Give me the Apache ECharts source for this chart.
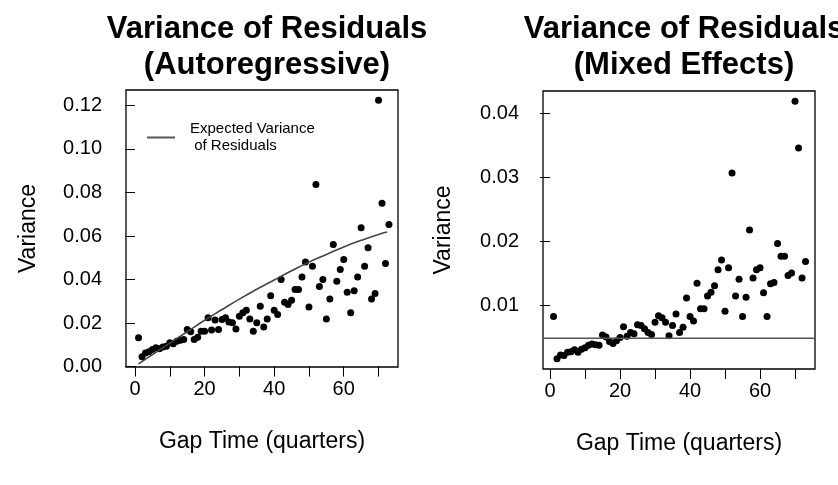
<!DOCTYPE html>
<html>
<head>
<meta charset="utf-8">
<script src="https://cdn.jsdelivr.net/npm/echarts@6/dist/echarts.min.js"></script>
<style>
html,body{margin:0;padding:0;background:#fff;}
#c{width:838px;height:485px;}
</style>
</head>
<body>
<div id="c"></div>
<script>
// Gap time (quarters)
const gapTime = [1,2,3,4,5,6,7,8,9,10,11,12,13,14,15,16,17,18,19,20,21,22,23,24,25,26,27,28,29,30,31,32,33,34,35,36,37,38,39,40,41,42,43,44,45,46,47,48,49,50,51,52,53,54,55,56,57,58,59,60,61,62,63,64,65,66,67,68,69,70,71,72,73];
// Variance of residuals, autoregressive model
const arVariance = [0.0132,0.0045,0.0062,0.0068,0.0078,0.0086,0.0082,0.0090,0.0093,0.0110,
  0.0105,0.0116,0.0121,0.0124,0.0170,0.0160,0.0124,0.0135,0.0162,0.0162,
  0.0224,0.0168,0.0214,0.0170,0.0216,0.0224,0.0205,0.0201,0.0173,0.0231,
  0.0247,0.0259,0.0219,0.0162,0.0201,0.0277,0.0182,0.0219,0.0326,0.0259,
  0.0239,0.0400,0.0296,0.0285,0.0305,0.0354,0.0354,0.0412,0.0480,0.0274,
  0.0461,0.0837,0.0368,0.0400,0.0219,0.0311,0.0561,0.0392,0.0446,0.0492,
  0.0342,0.0247,0.0348,0.0412,0.0638,0.0461,0.0546,0.0311,0.0336,0.1224,
  0.0750,0.0474,0.0653];
// Expected variance of residuals (curve)
const expectedX = [1,5,10,15,20,25,30,35,40,45,50,55,60,65,70,72.5];
const expectedV = [0.0012,0.0055,0.0108,0.0160,0.0213,0.0262,0.0310,0.0355,0.0398,0.0440,0.0480,0.0515,0.0550,0.0580,0.0607,0.0618];
// Variance of residuals, mixed effects model
const meVariance = [0.0083,0.0017,0.0023,0.0022,0.0027,0.0028,0.0031,0.0027,0.0032,0.0034,
  0.0038,0.0040,0.0039,0.0038,0.0054,0.0051,0.0044,0.0041,0.0045,0.0050,
  0.0067,0.0052,0.0058,0.0056,0.0070,0.0069,0.0064,0.0058,0.0055,0.0074,
  0.0084,0.0081,0.0074,0.0053,0.0069,0.0087,0.0058,0.0066,0.0112,0.0083,
  0.0076,0.0135,0.0095,0.0095,0.0115,0.0121,0.0131,0.0156,0.0171,0.0091,
  0.0159,0.0307,0.0115,0.0141,0.0083,0.0113,0.0218,0.0143,0.0156,0.0159,
  0.0120,0.0083,0.0134,0.0136,0.0197,0.0177,0.0177,0.0147,0.0151,0.0419,
  0.0346,0.0143,0.0169];
const meReference = 0.0049;
// Axis ranges
const xRangeAR = [-2.6, 75.6];
const xRangeME = [-2, 75.7];
const yRangeAR = [-0.0002, 0.1271];
const yRangeME = [0.0001, 0.0435];
// Tick values
const xTicks = [0,10,20,30,40,50,60,70];
const xLabels = [0,20,40,60];
const yTicksAR = [0,0.02,0.04,0.06,0.08,0.10,0.12];
const yTicksME = [0.01,0.02,0.03,0.04];

const FONT = 'Liberation Sans, Arial, Helvetica, sans-serif';
const chart = echarts.init(document.getElementById('c'), null, {renderer:'canvas'});

function xAxisDef(gridIndex, range){
  return {
    type:'value', gridIndex, min:range[0], max:range[1],
    name:'Gap Time (quarters)', nameLocation:'middle', nameGap:63,
    nameTextStyle:{fontFamily:FONT, fontSize:23, color:'#000'},
    axisLine:{show:false},
    axisTick:{show:true, length:10, inside:false, customValues:xTicks, lineStyle:{color:'#000', width:1}},
    axisLabel:{customValues:xLabels, margin:12, fontFamily:FONT, fontSize:20, color:'#000'},
    splitLine:{show:false}
  };
}
function yAxisDef(gridIndex, range, ticks, gap){
  return {
    type:'value', gridIndex, min:range[0], max:range[1],
    name:'Variance', nameLocation:'middle', nameGap:gap, nameRotate:90,
    nameTextStyle:{fontFamily:FONT, fontSize:23, color:'#000'},
    axisLine:{show:false},
    axisTick:{show:true, length:10, inside:false, customValues:ticks, lineStyle:{color:'#000', width:1}},
    axisLabel:{customValues:ticks, margin:24, fontFamily:FONT, fontSize:20, color:'#000',
      formatter:v=>v.toFixed(2)},
    splitLine:{show:false}
  };
}

const option = {
  backgroundColor:'#fff',
  animation:false,
  title:[
    {text:'Variance of Residuals\n(Autoregressive)', left:262, top:6, textAlign:'center',
     textStyle:{fontFamily:FONT, fontSize:31, fontWeight:'bold', color:'#000', lineHeight:36}},
    {text:'Variance of Residuals\n(Mixed Effects)', left:679, top:6, textAlign:'center',
     textStyle:{fontFamily:FONT, fontSize:31, fontWeight:'bold', color:'#000', lineHeight:36}}
  ],
  legend:{
    left:142, top:115, orient:'vertical',
    data:[{name:'Expected Variance', icon:'rect', itemStyle:{color:'#555'}}],
    itemWidth:28, itemHeight:2,
    formatter:()=> 'Expected Variance\n of Residuals',
    textStyle:{fontFamily:FONT, fontSize:15, color:'#000', lineHeight:17.5, padding:[0,0,0,10]},
    selectedMode:false
  },
  grid:[
    {left:126, top:90, width:272, height:277, show:true, borderColor:'#000', borderWidth:1.3, backgroundColor:'transparent'},
    {left:543, top:91, width:272, height:278, show:true, borderColor:'#000', borderWidth:1.3, backgroundColor:'transparent'}
  ],
  xAxis:[ xAxisDef(0,xRangeAR), xAxisDef(1,xRangeME) ],
  yAxis:[ yAxisDef(0,yRangeAR,yTicksAR,86), yAxisDef(1,yRangeME,yTicksME,88) ],
  series:[
    {type:'scatter', name:'AR', xAxisIndex:0, yAxisIndex:0, symbolSize:7,
     itemStyle:{color:'#000', opacity:1}, data:gapTime.map((x,i)=>[x,arVariance[i]])},
    {type:'line', name:'Expected Variance', xAxisIndex:0, yAxisIndex:0, smooth:true, symbol:'none', showSymbol:false,
     lineStyle:{color:'#444', width:1.6}, itemStyle:{color:'#444'},
     data:expectedX.map((x,i)=>[x,expectedV[i]])},
    {type:'scatter', name:'ME', xAxisIndex:1, yAxisIndex:1, symbolSize:7,
     itemStyle:{color:'#000', opacity:1}, data:gapTime.map((x,i)=>[x,meVariance[i]])},
    {type:'line', name:'ME reference', xAxisIndex:1, yAxisIndex:1, symbol:'none', showSymbol:false,
     lineStyle:{color:'#555', width:1.6}, itemStyle:{color:'#555'},
     data:xRangeME.map(x=>[x,meReference])}
  ]
};
chart.setOption(option);
</script>
</body>
</html>
